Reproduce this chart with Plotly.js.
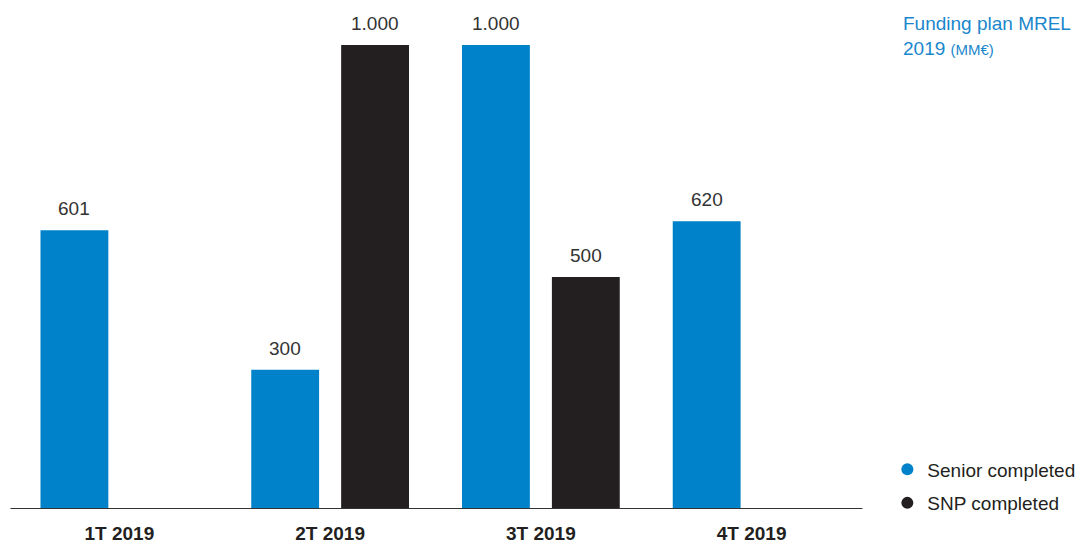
<!DOCTYPE html>
<html><head><meta charset="utf-8">
<script src="https://cdn.plot.ly/plotly-3.0.1.min.js"></script>
<style>html,body{margin:0;padding:0;background:#fff}</style>
</head><body>
<div id="chart" style="width:1083px;height:545px"></div>
<script>
const categories = ['1T 2019', '2T 2019', '3T 2019', '4T 2019'];
const seniorValues = [601, 300, 1000, 620];
const snpValues = [null, 1000, 500, null];
const seriesNames = ['Senior completed', 'SNP completed'];
const seriesColors = ['#0082ca', '#231f20'];

const BAR_W = 0.322;
const CENTER = 0.2133;

function fmt(v) { return String(v).replace(/\B(?=(\d{3})+(?!\d))/g, '.'); }

const allSeries = [seniorValues, snpValues];
const traces = [];
allSeries.forEach((vals, k) => {
  const c = k === 0 ? -CENTER : CENTER;
  traces.push({
    type: 'bar', x: categories, y: vals, name: seriesNames[k],
    marker: {color: seriesColors[k]}, width: BAR_W, offset: c - BAR_W / 2,
    showlegend: false, hoverinfo: 'skip'
  });
});
allSeries.forEach((vals, k) => {
  traces.push({
    type: 'scatter', mode: 'markers', x: [null], y: [null], name: seriesNames[k],
    marker: {color: seriesColors[k], size: 12, symbol: 'circle'},
    legendgroup: 'g' + k, showlegend: true
  });
});

const annotations = [];
allSeries.forEach((vals, k) => {
  const c = k === 0 ? -CENTER : CENTER;
  vals.forEach((v, i) => {
    if (v === null) return;
    annotations.push({
      x: i + c, y: v, xref: 'x', yref: 'y', text: fmt(v), showarrow: false,
      yanchor: 'bottom', yshift: 9,
      font: {family: 'Liberation Sans, Arial, sans-serif', size: 19, color: '#333333'}
    });
  });
});
annotations.push({
  xref: 'paper', yref: 'paper', x: 1.0527, y: 1.018, xanchor: 'left', yanchor: 'top',
  align: 'left', showarrow: false,
  text: 'Funding plan MREL<br>2019 <span style="font-size:15px">(MM€)</span>',
  font: {family: 'Liberation Sans, Arial, sans-serif', size: 19, color: '#1a87cc'}
});

const layout = {
  width: 1083, height: 545,
  margin: {l: 13.5, r: 225.5, t: 20, b: 36, pad: 0, autoexpand: false},
  paper_bgcolor: '#ffffff', plot_bgcolor: '#ffffff',
  barmode: 'group',
  xaxis: {
    type: 'category', showgrid: false, zeroline: false, showline: false, automargin: false,
    ticks: 'outside', ticklen: 7, tickcolor: 'rgba(0,0,0,0)',
    tickfont: {family: 'Liberation Sans, Arial, sans-serif', size: 19, color: '#231f20', weight: 'bold'},
    fixedrange: true
  },
  yaxis: {range: [0, 1053.9], visible: false, showgrid: false, zeroline: false, fixedrange: true},
  showlegend: true,
  legend: {
    x: 1.036, y: 0.12, xanchor: 'left', yanchor: 'top',
    font: {family: 'Liberation Sans, Arial, sans-serif', size: 19, color: '#231f20'},
    tracegroupgap: 6, bgcolor: 'rgba(0,0,0,0)'
  },
  shapes: [{
    type: 'line', xref: 'paper', yref: 'y', x0: -3.5 / 844, x1: 1 + 5.5 / 844, y0: 0, y1: 0,
    line: {color: '#333333', width: 2}
  }],
  annotations: annotations
};

Plotly.newPlot('chart', traces, layout, {displayModeBar: false, staticPlot: true});
</script>
</body></html>
